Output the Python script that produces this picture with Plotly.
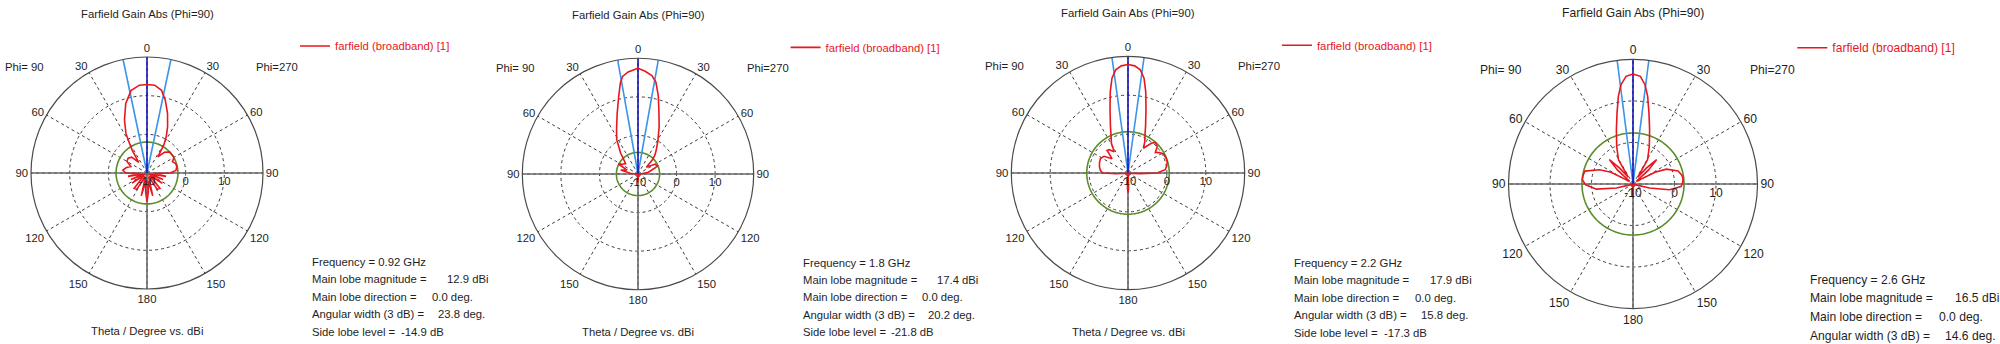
import numpy as np
import plotly.graph_objects as go

W, H = 2000, 344

# ---- summary values per frequency ----
freq_ghz = ["0.92", "1.8", "2.2", "2.6"]
main_lobe_dbi = [12.9, 17.4, 17.9, 16.5]
main_lobe_dir = [0.0, 0.0, 0.0, 0.0]
width_3db = [23.8, 20.2, 15.8, 14.6]
side_lobe_db = [-14.9, -21.8, -17.3, -14.2]

# ---- farfield cuts: theta (deg, clockwise from boresight) and gain (dBi) ----
theta_092 = [0, 5, 10, 14, 19, 24, 28, 31, 34, 40, 47, 55, 60, 66, 72, 78, 85, 90, 94,
             100, 106, 112, 118, 124, 132, 140, 148, 156, 166, 172, 176, 180, 184, 188,
             194, 204, 212, 220, 228, 236, 242, 248, 254, 260, 266, 270, 277, 285, 292,
             300, 308, 316, 322, 327, 330, 332, 337, 343, 349, 355, 360]
gain_092 = [12.9, 12.8, 11.7, 9.5, 6.3, 3.1, 0.6, -1.5, -5.0, -3.0, -2.0, -2.0, -1.9, -2.8,
            -2.2, -2.1, -2.5, -4.0, -8.0, -5.0, -9.0, -5.5, -9.5, -5.2, -9.0, -4.8, -5.0,
            -9.0, -3.9, -8.0, -5.0, -2.6, -5.0, -8.0, -3.9, -9.0, -5.0, -4.8, -9.0, -5.3,
            -9.5, -5.5, -9.0, -5.0, -8.0, -4.5, -3.7, -4.5, -5.5, -4.0, -3.8, -4.3, -6.5,
            -3.0, -0.6, 1.6, 4.9, 8.8, 11.7, 12.8, 12.9]

theta_18 = [0, 4, 8, 11, 14.5, 18, 24, 30.5, 36, 41, 45, 51, 60, 68, 75, 82, 90, 100, 120,
            140, 160, 172, 176, 180, 184, 188, 200, 220, 240, 260, 270, 275, 283, 290, 297,
            302, 310, 318, 320, 324.5, 328, 334, 341, 346, 349, 351, 354.5, 360]
gain_18 = [17.4, 16.7, 15.8, 14.3, 11.0, 7.5, 3.5, 0.2, -1.8, -3.2, -4.5, -7.2, -5.0, -4.4,
           -6.5, -7.5, -9.5, -9.8, -9.5, -9.8, -9.5, -9.5, -8.5, -8.0, -8.5, -9.5, -9.8,
           -9.5, -9.8, -9.6, -9.5, -8.0, -5.4, -7.0, -4.3, -5.2, -5.8, -4.0, -3.0, -1.5,
           0.4, 2.7, 6.6, 10.7, 14.0, 15.6, 16.6, 17.4]

theta_22 = [0, 3.6, 6.8, 9.6, 12.3, 15.6, 20.2, 24.1, 28.5, 32, 38, 42, 48, 53, 57, 61, 68,
            74, 80, 85, 90, 93, 97, 120, 150, 170, 175, 178, 180, 182, 185, 190, 210, 240,
            262, 266, 270, 275, 282, 290, 298, 305, 312, 317, 321, 327, 330.7, 335.9,
            339.8, 344.4, 347.7, 350.4, 353.2, 356.4, 360]
gain_22 = [17.9, 17.6, 16.7, 14.7, 11.4, 7.2, 3.1, 0.7, -1.0, -2.5, -0.3, 0.55, 0.1, -1.2,
           -0.4, 0.3, 0.5, 0.5, 0.1, -0.4, -2.5, -7.0, -9.5, -9.8, -9.6, -9.5, -9.0, -6.0,
           -5.0, -6.0, -9.0, -9.5, -9.8, -9.6, -9.5, -7.0, -3.5, -2.9, -2.5, -2.2, -2.0,
           -2.5, -4.5, -2.1, -2.3, -3.5, -1.3, 0.7, 3.1, 7.2, 11.4, 14.7, 16.7, 17.6, 17.9]

theta_26 = [0, 3.9, 6.9, 9.5, 12.7, 17, 23.4, 31, 35, 40, 44, 48, 52, 58, 62, 66, 74, 80,
            84, 88, 93, 99, 103.5, 108, 130, 160, 175, 178, 180, 182, 185, 200, 230, 252,
            256.5, 262, 269, 275, 280, 285, 293, 298, 302, 308, 312, 316, 320, 325, 329,
            336.6, 343, 347.3, 350.5, 353.1, 356.3, 360]
gain_26 = [16.5, 16.0, 14.1, 11.4, 7.5, 3.7, -0.1, -3.2, -8.0, -5.0, -1.8, -5.0, -9.0, -8.0,
           -4.0, -1.2, 1.3, 2.0, 2.1, 2.0, 1.6, -1.1, -5.9, -9.5, -9.8, -9.6, -9.2, -7.5,
           -6.8, -7.5, -9.2, -9.6, -9.8, -9.5, -5.9, -1.1, 1.4, 2.25, 2.2, 2.0, -1.25, -4.0,
           -8.0, -9.0, -5.0, -1.8, -5.0, -8.0, -3.2, -0.1, 3.7, 7.5, 11.4, 14.1, 16.0, 16.5]

cuts = [(theta_092, gain_092), (theta_18, gain_18), (theta_22, gain_22), (theta_26, gain_26)]

# ---- axes ----
r_min, r_max = -10, 20
radial_ticks = [-10, 0, 10]
angle_ticks = list(range(0, 360, 30))
angle_labels = ["0", "30", "60", "90", "120", "150", "180", "150", "120", "90", "60", "30"]

# ---- panel geometry (pixels): centre x, centre y, outer radius ----
panels = [(147, 173, 116.0), (638, 174, 115.7), (1128, 173, 116.7), (1633, 184, 124.5)]

RED = "#e8161e"
NAVY = "#1212b4"
SKY = "#3a94ea"
GREEN = "#5b8c2a"
AXIS = "#6a6a6a"
GRID = "#3c3c3c"
TEXT = "#1e1e1e"
FONT = "Liberation Sans"
BASE_SIZE = 11.3


def px(x):
    return x / W


def py(y):
    return 1 - y / H


fig = go.Figure()
annotations = []

for i, ((cx, cy, R), (th, g)) in enumerate(zip(panels, cuts)):
    s = R / 116.0
    fs = BASE_SIZE * s
    sub = "polar" if i == 0 else f"polar{i + 1}"
    leg = "legend" if i == 0 else f"legend{i + 1}"

    # solid reference axes
    for a in (90, 180, 270):
        fig.add_trace(go.Scatterpolar(r=[r_min, r_max], theta=[a, a], mode="lines",
                                      line=dict(color=AXIS, width=1.6), subplot=sub,
                                      showlegend=False, hoverinfo="skip"))
    # side lobe level circle
    level = main_lobe_dbi[i] + side_lobe_db[i]
    ring = np.arange(0, 361, 2)
    fig.add_trace(go.Scatterpolar(r=[level] * len(ring), theta=ring, mode="lines",
                                  line=dict(color=GREEN, width=1.6), subplot=sub,
                                  showlegend=False, hoverinfo="skip"))
    # 3 dB beamwidth limits and main lobe direction
    half = width_3db[i] / 2
    for a in (main_lobe_dir[i] - half, main_lobe_dir[i] + half):
        fig.add_trace(go.Scatterpolar(r=[r_min, r_max], theta=[a, a], mode="lines",
                                      line=dict(color=SKY, width=1.6), subplot=sub,
                                      showlegend=False, hoverinfo="skip"))
    fig.add_trace(go.Scatterpolar(r=[r_min, r_max], theta=[main_lobe_dir[i]] * 2, mode="lines",
                                  line=dict(color=NAVY, width=1.6), subplot=sub,
                                  showlegend=False, hoverinfo="skip"))
    # gain pattern
    fig.add_trace(go.Scatterpolar(r=g, theta=th, mode="lines", name="farfield (broadband) [1]",
                                  line=dict(color=RED, width=1.6), subplot=sub,
                                  legend=leg, showlegend=True))

    fig.layout[sub] = dict(
        domain=dict(x=[px(cx - R), px(cx + R)], y=[py(cy + R), py(cy - R)]),
        bgcolor="white",
        angularaxis=dict(rotation=90, direction="clockwise", tickmode="array",
                         tickvals=angle_ticks, ticktext=angle_labels, ticks="",
                         showline=True, linecolor="#4a4a4a", linewidth=1.2,
                         showgrid=True, gridcolor=GRID, gridwidth=1, griddash="dot",
                         tickfont=dict(family=FONT, size=fs, color=TEXT)),
        radialaxis=dict(range=[r_min, r_max], tickmode="array", tickvals=radial_ticks,
                        ticktext=[str(v) for v in radial_ticks], angle=0, side="clockwise",
                        tickangle=0, showline=False, ticks="",
                        showgrid=True, gridcolor=GRID, gridwidth=1, griddash="dot",
                        tickfont=dict(family=FONT, size=fs, color=TEXT)),
    )

    fig.layout[leg] = dict(x=px(cx + 154 * s - 6), y=py(cy - 127 * s), xanchor="left",
                           yanchor="middle", bgcolor="rgba(0,0,0,0)", borderwidth=0,
                           itemwidth=30, font=dict(family=FONT, size=fs, color=RED))

    def note(text, x, y, xanchor="left"):
        annotations.append(dict(text=text, x=px(x), y=py(y), xref="paper", yref="paper",
                                xanchor=xanchor, yanchor="middle", showarrow=False,
                                font=dict(family=FONT, size=fs, color=TEXT)))

    note("Farfield Gain Abs (Phi=90)", cx, cy - 159 * s, "center")
    note("Phi= 90", cx - 144 * s, cy - 106 * s)
    note("Phi=270", cx + 107 * s, cy - 106 * s)
    if cy + 158 * s < H - 6:
        note("Theta / Degree vs. dBi", cx, cy + 158 * s, "center")

    rows = [
        (f"Frequency = {freq_ghz[i]} GHz", None, None),
        ("Main lobe magnitude =", f"{main_lobe_dbi[i]:.1f} dBi", 135),
        ("Main lobe direction =", f"{main_lobe_dir[i]:.1f} deg.", 120),
        ("Angular width (3 dB) =", f"{width_3db[i]:.1f} deg.", 126),
        ("Side lobe level =", f"{side_lobe_db[i]:.1f} dB", 89),
    ]
    x0 = cx + 163 * s
    for k, (label, value, off) in enumerate(rows):
        yk = cy + (89 + 17.4 * k) * s
        if yk > H - 6:
            break
        note(label, x0, yk)
        if value is not None:
            note(value, x0 + off * s, yk)

fig.update_layout(width=W, height=H, margin=dict(l=0, r=0, t=0, b=0),
                  paper_bgcolor="white", plot_bgcolor="white",
                  annotations=annotations, showlegend=True)

fig.write_html("out.html")
